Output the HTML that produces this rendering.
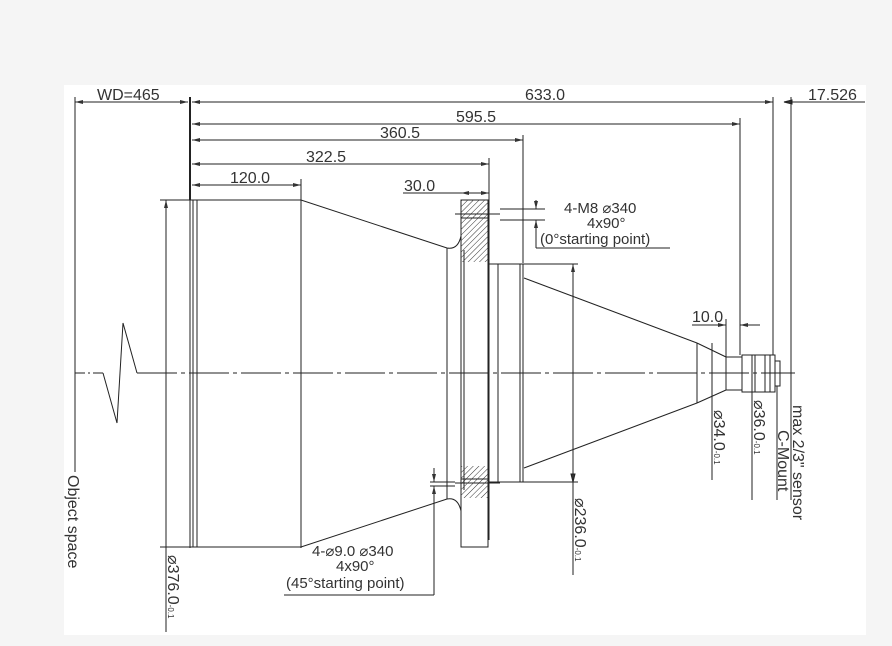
<!DOCTYPE html>
<html><head><meta charset="utf-8"><style>
html,body{margin:0;padding:0;background:#f5f5f5;}
svg{display:block;font-family:"Liberation Sans","DejaVu Sans",sans-serif;}
text{fill:#333;}
</style></head><body>
<svg width="892" height="646" viewBox="0 0 892 646" xmlns="http://www.w3.org/2000/svg">
<defs>
<pattern id="h" width="4" height="4" patternUnits="userSpaceOnUse" patternTransform="rotate(45)">
<line x1="0" y1="0" x2="0" y2="4" stroke="#333" stroke-width="1"/></pattern>
<marker id="a" markerWidth="8" markerHeight="6" refX="8" refY="3" orient="auto-start-reverse" markerUnits="userSpaceOnUse"><path d="M0,1 L8,3 L0,5z" fill="#333"/></marker>
</defs>
<rect x="64" y="85" width="802" height="550" fill="#fff"/>
<g stroke="#222" stroke-width="1" fill="none">
<line x1="75" y1="102" x2="188" y2="102" marker-start="url(#a)" marker-end="url(#a)"/>
<line x1="192" y1="102" x2="773" y2="102" marker-start="url(#a)" marker-end="url(#a)"/>
<line x1="792" y1="102" x2="865" y2="102"/>
<path d="M784,102 L792,100 L792,104z" fill="#333"/>
<line x1="192" y1="124" x2="740" y2="124" marker-start="url(#a)" marker-end="url(#a)"/>
<line x1="192" y1="140" x2="523" y2="140" marker-start="url(#a)" marker-end="url(#a)"/>
<line x1="192" y1="164" x2="489" y2="164" marker-start="url(#a)" marker-end="url(#a)"/>
<line x1="192" y1="185" x2="301" y2="185" marker-start="url(#a)" marker-end="url(#a)"/>
<line x1="403" y1="193" x2="489" y2="193"/>
<line x1="461" y1="193" x2="489" y2="193" marker-start="url(#a)" marker-end="url(#a)"/>
<line x1="190" y1="97" x2="190" y2="200" stroke-width="2"/>
<line x1="190" y1="200" x2="190" y2="548"/>
<line x1="75" y1="97" x2="75" y2="472"/>
<line x1="301" y1="179" x2="301" y2="548"/>
<line x1="489" y1="158" x2="489" y2="540"/>
<line x1="523" y1="135" x2="523" y2="263"/>
<line x1="740" y1="118" x2="740" y2="355"/>
<line x1="773" y1="97" x2="773" y2="355"/>
<line x1="791" y1="97" x2="791" y2="500"/>
<line x1="75" y1="373" x2="103" y2="373" stroke-dasharray="10,3,2,3"/>
<path d="M103,373 L117,423 L123,323 L137,373"/>
<line x1="137" y1="373" x2="795" y2="373" stroke-dasharray="40,4,4,4"/>
<path d="M193,200 L301,200 L447,248 Q458,250 461,236"/>
<path d="M193,547 L301,547 L447,499 Q458,497 461,511"/>
<line x1="193" y1="200" x2="193" y2="547"/>
<line x1="197" y1="200" x2="197" y2="547"/>
<line x1="447" y1="248" x2="447" y2="499"/>
<rect x="461" y="200" width="27" height="347"/>
<line x1="464" y1="250" x2="464" y2="490"/>
<rect x="461" y="200" width="27" height="62" fill="url(#h)" stroke="none"/>
<rect x="461" y="466" width="27" height="32" fill="url(#h)" stroke="none"/>
<line x1="455" y1="214" x2="500" y2="214"/><line x1="461" y1="218" x2="489" y2="218"/>
<line x1="455" y1="483" x2="500" y2="483"/><line x1="461" y1="479" x2="489" y2="479"/>
<rect x="489" y="264" width="34" height="218"/>
<line x1="498" y1="264" x2="498" y2="482"/>
<line x1="520" y1="264" x2="520" y2="482"/>
<line x1="524" y1="278" x2="697" y2="343"/>
<line x1="524" y1="468" x2="697" y2="403"/>
<line x1="697" y1="343" x2="697" y2="403"/>
<path d="M697,343 L726,357 L726,390 L697,403"/>
<rect x="726" y="357" width="16" height="33"/>
<rect x="742" y="355" width="33" height="37"/>
<line x1="755" y1="355" x2="755" y2="392"/><line x1="765" y1="355" x2="765" y2="392"/><line x1="770" y1="355" x2="770" y2="392"/>
<rect x="775" y="361" width="5" height="25"/>
<line x1="740" y1="325" x2="760" y2="325" marker-start="url(#a)"/>
<line x1="692" y1="325" x2="726" y2="325" marker-end="url(#a)"/>
<line x1="726" y1="319" x2="726" y2="357"/>
<line x1="166" y1="200" x2="166" y2="632" marker-start="url(#a)"/>
<line x1="160" y1="200" x2="193" y2="200"/><line x1="160" y1="547" x2="193" y2="547"/>
<line x1="573" y1="264" x2="573" y2="575" marker-start="url(#a)"/>
<line x1="523" y1="264" x2="578" y2="264"/><line x1="489" y1="482" x2="578" y2="482"/>
<path d="M573,482 L571,474 L575,474z" fill="#333"/>
<line x1="712" y1="343" x2="712" y2="480"/>
<line x1="752" y1="355" x2="752" y2="500"/>
<line x1="777" y1="386" x2="777" y2="500"/>
<line x1="500" y1="209" x2="545" y2="209"/><line x1="500" y1="220" x2="545" y2="220"/>
<line x1="536" y1="200" x2="536" y2="209" marker-end="url(#a)"/>
<line x1="536" y1="248" x2="536" y2="220" marker-end="url(#a)"/>
<line x1="536" y1="248" x2="670" y2="248"/>
<line x1="430" y1="482" x2="455" y2="482"/><line x1="430" y1="486" x2="455" y2="486"/>
<line x1="434" y1="468" x2="434" y2="482" marker-end="url(#a)"/>
<line x1="434" y1="595" x2="434" y2="486" marker-end="url(#a)"/>
<line x1="284" y1="595" x2="434" y2="595"/>
</g>
<g font-size="16">
<text x="97" y="100">WD=465</text>
<text x="525" y="100">633.0</text>
<text x="808" y="100">17.526</text>
<text x="456" y="122">595.5</text>
<text x="380" y="138">360.5</text>
<text x="306" y="162">322.5</text>
<text x="230" y="183">120.0</text>
<text x="404" y="191">30.0</text>
<text x="692" y="322">10.0</text>
<text x="564" y="213" font-size="15">4-M8 ⌀340</text>
<text x="587" y="228" font-size="15">4x90°</text>
<text x="540" y="244" font-size="15">(0°starting point)</text>
<text x="312" y="556" font-size="15">4-⌀9.0  ⌀340</text>
<text x="336" y="571" font-size="15">4x90°</text>
<text x="286" y="588" font-size="15">(45°starting point)</text>
<text transform="translate(68,475) rotate(90)">Object space</text>
<text transform="translate(168,555) rotate(90)">⌀376.0<tspan font-size="8">-0.1</tspan></text>
<text transform="translate(575,498) rotate(90)">⌀236.0<tspan font-size="8">-0.1</tspan></text>
<text transform="translate(714,410) rotate(90)">⌀34.0<tspan font-size="8">-0.1</tspan></text>
<text transform="translate(754,400) rotate(90)">⌀36.0<tspan font-size="8">-0.1</tspan></text>
<text transform="translate(778,430) rotate(90)">C-Mount</text>
<text transform="translate(793,405) rotate(90)">max 2/3" sensor</text>
</g>
</svg>
</body></html>
